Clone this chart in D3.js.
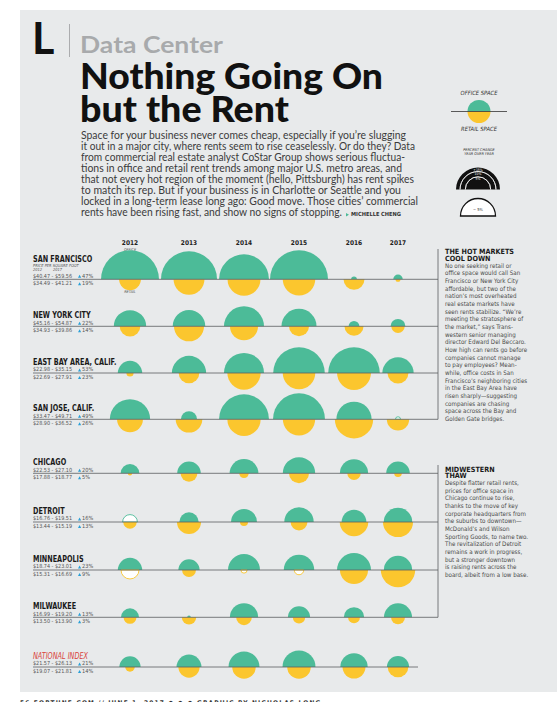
<!DOCTYPE html>
<html><head><meta charset="utf-8">
<script src="https://cdn.jsdelivr.net/npm/d3@7"></script>
<style>body{margin:0;background:#fff}svg{display:block}</style>
</head><body>
<svg id="c" width="557" height="702"></svg>
<script>
// ---------------- DATA ----------------
const years = ["2012","2013","2014","2015","2016","2017"];
const cities = ["SAN FRANCISCO","NEW YORK CITY","EAST BAY AREA, CALIF.","SAN JOSE, CALIF.","CHICAGO","DETROIT","MINNEAPOLIS","MILWAUKEE","NATIONAL INDEX"];
// percent change year over year (office = top half, retail = bottom half)
const officeChange = [
  [26.0, 24.3, 19.3, 26.0, 0.25, 0.7],
  [8.1, 8.2, 12.4, 9.5, 0.9, 1.7],
  [4.6, 9.1, 12.4, 20.6, 20.6, 7.6],
  [12.6, 2.0, 19.3, 20.9, 9.6, -0.2],
  [2.7, 4.3, 6.4, 8.1, 6.2, 4.3],
  [-1.7, 2.9, 5.2, 6.7, 4.7, 6.3],
  [4.6, 3.5, 7.9, 7.2, 8.9, 6.2],
  [2.5, 0.1, 6.2, 3.8, 3.2, 6.1],
  [3.5, 4.8, 7.4, 8.4, 5.8, 3.8]
];
const retailChange = [
  [3.7, 7.4, 8.4, 8.2, 3.4, 0.2],
  [3.3, 7.0, 6.1, 3.1, 2.8, 1.4],
  [0.4, 3.3, 8.6, 8.2, 8.9, 3.4],
  [5.2, 5.5, 8.6, 8.1, 11.4, 3.9],
  [0.15, 2.2, 0.7, 3.1, 1.4, 0.45],
  [1.4, 4.5, 0.5, 2.2, 6.3, 7.0],
  [-2.5, 1.5, -0.3, -0.7, 6.1, 9.2],
  [1.3, 1.6, 1.9, 1.2, 1.1, 1.5],
  [0.7, 3.5, 4.3, 4.3, 4.1, 3.3]
];
const officePrice = ["$40.47 - $59.56","$45.16 - $54.87","$22.98 - $35.15","$33.47 - $49.71","$22.53 - $27.10","$16.76 - $19.51","$18.74 - $23.01","$16.99 - $19.20","$21.57 - $26.13"];
const officeTotal = ["47%","22%","53%","49%","20%","16%","23%","13%","21%"];
const retailPrice = ["$34.49 - $41.21","$34.93 - $39.86","$22.69 - $27.91","$28.90 - $36.52","$17.88 - $18.77","$13.44 - $15.19","$15.31 - $16.69","$13.50 - $13.90","$19.07 - $21.81"];
const retailTotal = ["19%","14%","23%","26%","5%","13%","9%","3%","14%"];
const legendTicks = [15, 10, 5];

const introLines = [
  "Space for your business never comes cheap, especially if you\u2019re slugging",
  "it out in a major city, where rents seem to rise ceaselessly. Or do they? Data",
  "from commercial real estate analyst CoStar Group shows serious fluctua-",
  "tions in office and retail rent trends among major U.S. metro areas, and",
  "that not every hot region of the moment (hello, Pittsburgh) has rent spikes",
  "to match its rep. But if your business is in Charlotte or Seattle and you",
  "locked in a long-term lease long ago: Good move. Those cities\u2019 commercial",
  "rents have been rising fast, and show no signs of stopping."
];
const side1Head = ["THE HOT MARKETS","COOL DOWN"];
const side1Body = ["No one seeking retail or","office space would call San","Francisco or New York City","affordable, but two of the","nation\u2019s most overheated","real estate markets have","seen rents stabilize. \u201cWe\u2019re","meeting the stratosphere of","the market,\u201d says Trans-","western senior managing","director Edward Del Beccaro.","How high can rents go before","companies cannot manage","to pay employees? Mean-","while, office costs in San","Francisco\u2019s neighboring cities","in the East Bay Area have","risen sharply\u2014suggesting","companies are chasing","space across the Bay and","Golden Gate bridges."];
const side2Head = ["MIDWESTERN","THAW"];
const side2Body = ["Despite flatter retail rents,","prices for office space in","Chicago continue to rise,","thanks to the move of key","corporate headquarters from","the suburbs to downtown\u2014","McDonald\u2019s and Wilson","Sporting Goods, to name two.","The revitalization of Detroit","remains a work in progress,","but a stronger downtown","is raising rents across the","board, albeit from a low base."];

// ---------------- LAYOUT ----------------
const GREEN = "#4cbb98", YELLOW = "#fbc62e", BG = "#e8eaeb", LINE = "#5a5d5f", BLUE = "#2aa0d8";
const colX = [130, 189, 244, 299, 354, 398];
const rowY = [279.3, 326.3, 373, 419.3, 473.3, 522, 570, 617.3, 667];
const narrow = "'Liberation Sans Narrow','DejaVu Sans Condensed',sans-serif";

const svg = d3.select("#c");
svg.append("rect").attr("x", 20).attr("y", 10).attr("width", 537).attr("height", 682).attr("fill", BG);

// Header
svg.append("text").attr("x", 32).attr("y", 54).text("L")
  .attr("font-family", "Lato, sans-serif").attr("font-weight", 700).attr("font-size", 43).attr("fill", "#111");
svg.append("line").attr("x1", 69.5).attr("x2", 69.5).attr("y1", 24).attr("y2", 57).attr("stroke", "#9a9c9e").attr("stroke-width", 0.8);
svg.append("text").attr("x", 80).attr("y", 53).text("Data Center")
  .attr("font-family", "Lato, sans-serif").attr("font-weight", 700).attr("font-size", 23).attr("fill", "#a8aaac")
  .attr("textLength", 143).attr("lengthAdjust", "spacingAndGlyphs");
svg.append("text").attr("x", 80).attr("y", 89).text("Nothing Going On")
  .attr("font-family", "Lato, sans-serif").attr("font-weight", 900).attr("font-size", 36).attr("fill", "#111")
  .attr("textLength", 303).attr("lengthAdjust", "spacingAndGlyphs");
svg.append("text").attr("x", 80).attr("y", 122).text("but the Rent")
  .attr("font-family", "Lato, sans-serif").attr("font-weight", 900).attr("font-size", 36).attr("fill", "#111")
  .attr("textLength", 209).attr("lengthAdjust", "spacingAndGlyphs");

const introW = [325, 334, 324, 321, 333, 320, 337, 261];
introLines.forEach((t, i) => {
  svg.append("text").attr("x", 81).attr("y", 139 + i * 11).text(t)
    .attr("font-family", "Lato, sans-serif").attr("font-weight", 400).attr("font-size", 11).attr("fill", "#3b3b3b")
    .attr("textLength", introW[i]).attr("lengthAdjust", "spacingAndGlyphs");
});
svg.append("path").attr("d", "M346,213 l3,1.8 l-3,1.8z").attr("fill", GREEN);
svg.append("text").attr("x", 351).attr("y", 216).text("MICHELLE CHENG")
  .attr("font-family", narrow).attr("font-weight", 700).attr("font-size", 5.6).attr("fill", "#333")
  .attr("textLength", 50).attr("lengthAdjust", "spacingAndGlyphs");

// Legend
const rScale = d3.scaleSqrt().domain([0, 15]).range([0, 22]);
const arc = d3.arc().innerRadius(0);
const topHalf = r => arc({outerRadius: r, startAngle: -Math.PI / 2, endAngle: Math.PI / 2});
const botHalf = r => arc({outerRadius: r, startAngle: Math.PI / 2, endAngle: 3 * Math.PI / 2});
const lg = svg.append("g").attr("font-family", narrow).attr("font-style", "italic").attr("fill", "#333");
lg.append("text").attr("x", 479).attr("y", 95).attr("text-anchor", "middle").attr("font-size", 5.8).text("OFFICE SPACE");
lg.append("path").attr("transform", "translate(479,111.5)").attr("d", topHalf(11.5)).attr("fill", GREEN);
lg.append("path").attr("transform", "translate(479,111.5)").attr("d", botHalf(11.5)).attr("fill", YELLOW);
lg.append("line").attr("x1", 451).attr("x2", 507).attr("y1", 111.5).attr("y2", 111.5).attr("stroke", "#333").attr("stroke-width", 0.8);
lg.append("text").attr("x", 479).attr("y", 130.5).attr("text-anchor", "middle").attr("font-size", 5.8).text("RETAIL SPACE");
lg.append("text").attr("x", 479).attr("y", 151).attr("text-anchor", "middle").attr("font-size", 3.8).text("PERCENT CHANGE");
lg.append("text").attr("x", 479).attr("y", 155).attr("text-anchor", "middle").attr("font-size", 3.8).text("YEAR OVER YEAR");
const lcx = 478, lcy = 189.5;
lg.append("path").attr("transform", `translate(${lcx},${lcy})`).attr("d", topHalf(rScale(15))).attr("fill", "#111");
legendTicks.slice(1).forEach(v => {
  lg.append("path").attr("transform", `translate(${lcx},${lcy})`)
    .attr("d", d3.arc()({innerRadius: rScale(v), outerRadius: rScale(v), startAngle: -Math.PI / 2, endAngle: Math.PI / 2}))
    .attr("fill", "none").attr("stroke", "#fff").attr("stroke-width", 0.7);
});
legendTicks.forEach(v => {
  lg.append("text").attr("x", lcx).attr("y", lcy - rScale(v) + 3.6).attr("text-anchor", "middle")
    .attr("font-size", 3.4).attr("fill", "#fff").attr("font-style", "normal").text((v === 15 ? "+" : "") + v + "%");
});
lg.append("path").attr("transform", "translate(478,216)").attr("d", topHalf(17.5)).attr("fill", "#fff").attr("stroke", "#111").attr("stroke-width", 1.3);
lg.append("text").attr("x", 478).attr("y", 211).attr("text-anchor", "middle").attr("font-size", 4).attr("font-style", "normal").text("\u2212 5%");

// Column headers
const x = d3.scaleOrdinal().domain(years).range(colX);
const y = d3.scaleOrdinal().domain(cities).range(rowY);
years.forEach(yr => {
  svg.append("text").attr("x", x(yr)).attr("y", 245).attr("text-anchor", "middle").text(yr)
    .attr("font-family", narrow).attr("font-weight", 700).attr("font-size", 6.5).attr("fill", "#222");
});
svg.append("text").attr("x", x("2012")).attr("y", 250.5).attr("text-anchor", "middle").text("OFFICE")
  .attr("font-family", narrow).attr("font-style", "italic").attr("font-size", 3.8).attr("fill", "#555");
svg.append("text").attr("x", x("2012")).attr("y", 293).attr("text-anchor", "middle").text("RETAIL")
  .attr("font-family", narrow).attr("font-style", "italic").attr("font-size", 3.8).attr("fill", "#555");

// Circles
cities.forEach((c, i) => {
  const g = svg.append("g").attr("transform", `translate(0,${y(c)})`);
  years.forEach((yr, j) => {
    const ov = officeChange[i][j], rv = retailChange[i][j];
    g.append("path").attr("transform", `translate(${x(yr)},0)`).attr("d", topHalf(rScale(Math.abs(ov))))
      .attr("fill", ov >= 0 ? GREEN : "#fff").attr("stroke", ov >= 0 ? "none" : GREEN).attr("stroke-width", 0.9);
    g.append("path").attr("transform", `translate(${x(yr)},0)`).attr("d", botHalf(rScale(Math.abs(rv))))
      .attr("fill", rv >= 0 ? YELLOW : "#fff").attr("stroke", rv >= 0 ? "none" : YELLOW).attr("stroke-width", 0.9);
  });
});

// Row labels + baselines
cities.forEach((c, i) => {
  const by = y(c);
  const isNat = c === "NATIONAL INDEX";
  const endX = isNat ? 418 : 438;
  svg.append("line").attr("x1", 33).attr("x2", endX).attr("y1", by).attr("y2", by).attr("stroke", LINE).attr("stroke-width", 0.8);
  const first = i === 0;
  const nameY = first ? by - 17 : by - 8;
  svg.append("text").attr("class", "city").attr("x", 33).attr("y", nameY).text(c)
    .attr("font-family", narrow).attr("font-weight", isNat ? 400 : 700).attr("font-style", isNat ? "italic" : "normal")
    .attr("font-size", 9).attr("fill", isNat ? "#d8423b" : "#1a1a1a");
  if (first) {
    svg.append("text").attr("x", 33).attr("y", by - 12.5).text("PRICE PER SQUARE FOOT")
      .attr("font-family", narrow).attr("font-style", "italic").attr("font-size", 4).attr("fill", "#555");
    svg.append("text").attr("x", 33).attr("y", by - 8.5).text("2012")
      .attr("font-family", narrow).attr("font-style", "italic").attr("font-size", 4).attr("fill", "#555");
    svg.append("text").attr("x", 53).attr("y", by - 8.5).text("2017")
      .attr("font-family", narrow).attr("font-style", "italic").attr("font-size", 4).attr("fill", "#555");
  }
  [[officePrice[i], officeTotal[i], by - 1.6], [retailPrice[i], retailTotal[i], by + 6]].forEach(([p, t, ty]) => {
    svg.append("text").attr("x", 33).attr("y", ty).text(p)
      .attr("font-family", narrow).attr("font-size", 5.6).attr("fill", "#555")
      .attr("textLength", 39).attr("lengthAdjust", "spacingAndGlyphs");
    svg.append("path").attr("d", `M${78},${ty} l1.6,-3 l1.6,3z`).attr("fill", BLUE);
    svg.append("text").attr("x", 82).attr("y", ty).text(t)
      .attr("font-family", narrow).attr("font-size", 5.6).attr("fill", "#555");
  });
});
// scale city names to condensed widths
svg.selectAll("text.city").each(function () {
  const w = this.getComputedTextLength();
  d3.select(this).attr("textLength", w * 0.8).attr("lengthAdjust", "spacingAndGlyphs");
});

// Brackets
svg.append("line").attr("x1", 438).attr("x2", 438).attr("y1", 249).attr("y2", y(cities[3])).attr("stroke", LINE).attr("stroke-width", 0.8);
svg.append("line").attr("x1", 438).attr("x2", 438).attr("y1", 465).attr("y2", y(cities[7])).attr("stroke", LINE).attr("stroke-width", 0.8);

// Side notes
function sideNote(head, body, hy, by0) {
  head.forEach((t, k) => svg.append("text").attr("x", 445).attr("y", hy + k * 6.6).text(t)
    .attr("font-family", narrow).attr("font-weight", 700).attr("font-size", 7.2).attr("fill", "#1a1a1a"));
  body.forEach((t, k) => svg.append("text").attr("x", 445).attr("y", by0 + k * 7.67).text(t)
    .attr("font-family", narrow).attr("font-size", 6.2).attr("fill", "#4a4a4a"));
}
sideNote(side1Head, side1Body, 254, 267.5);
sideNote(side2Head, side2Body, 471.5, 485);

// Footer (page strip, cut off at the bottom edge as in the print scan)
svg.append("text").attr("x", 20).attr("y", 704.5).text("56 FORTUNE.COM // JUNE 1, 2017   \u25CF \u25CF \u25CF   GRAPHIC BY NICHOLAS LONG")
  .attr("font-family", narrow).attr("font-weight", 700).attr("font-size", 6.5).attr("letter-spacing", 1.2).attr("fill", "#333");
</script>
</body></html>
